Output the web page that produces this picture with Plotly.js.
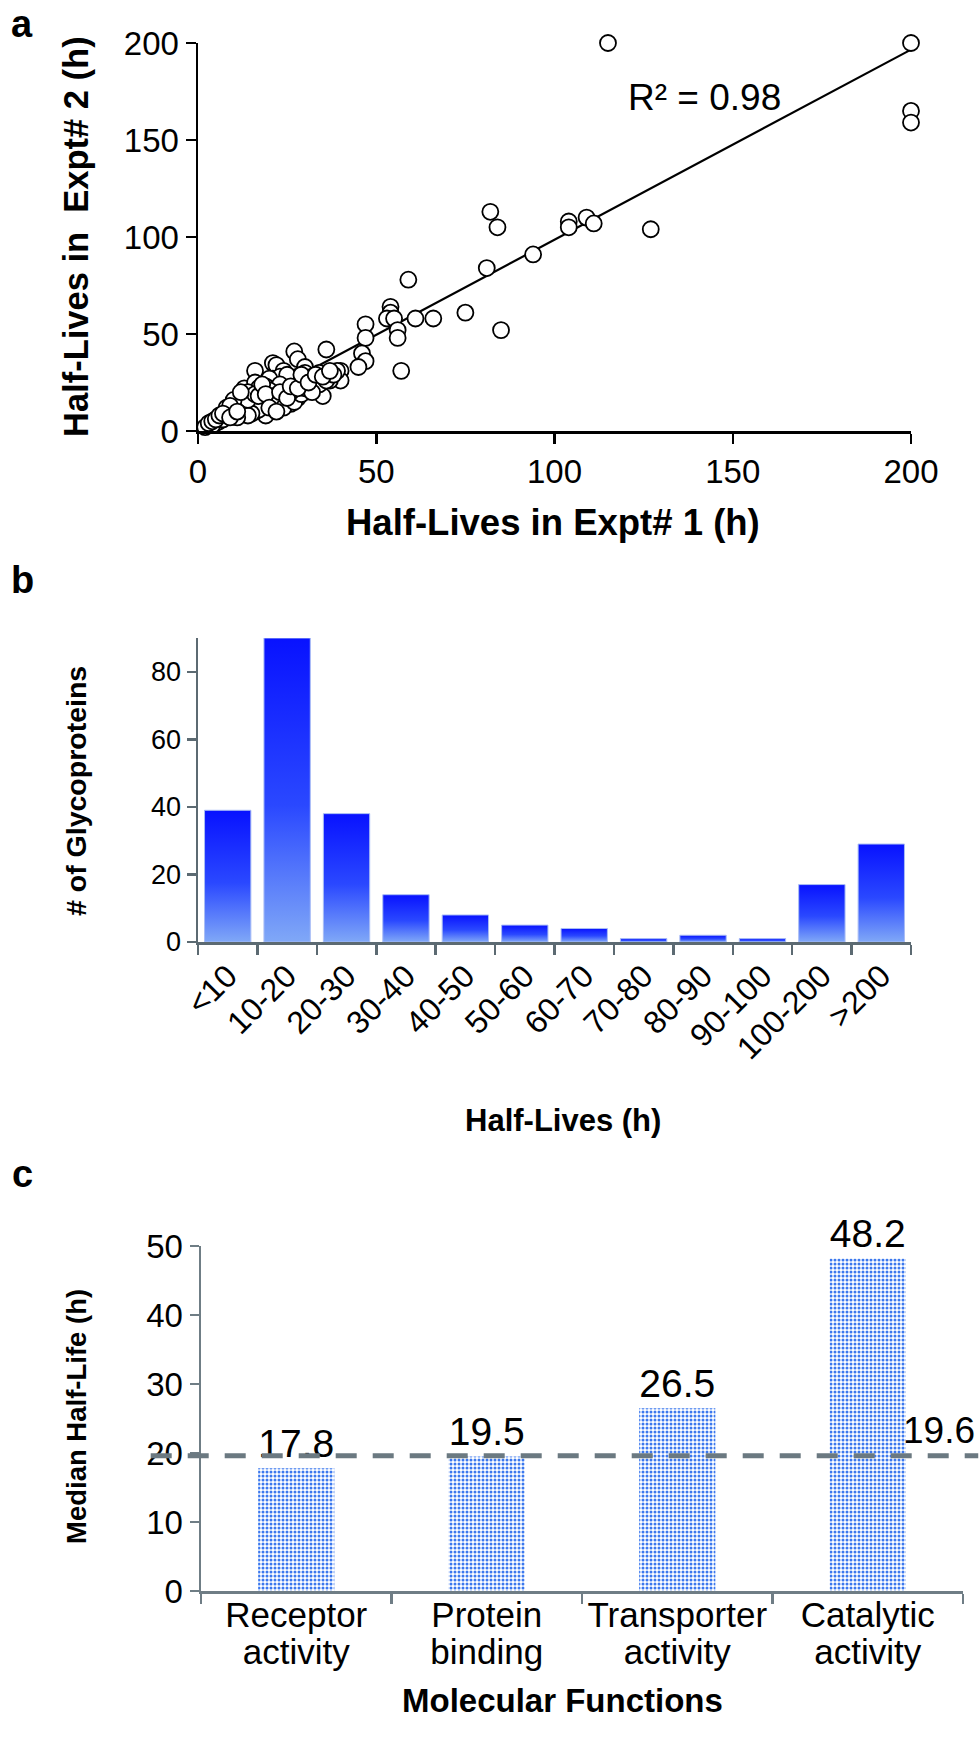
<!DOCTYPE html>
<html>
<head>
<meta charset="utf-8">
<script src="https://cdn.plot.ly/plotly-3.0.1.min.js"></script>
<style>
  html, body { margin: 0; padding: 0; background: #ffffff; }
  #chart { width: 980px; height: 1742px; }
</style>
</head>
<body>
<div id="chart"></div>
<script>
// ---------- Panel a: half-lives in two experiments ----------
const expt1 = [200,200,200,115,82,84,127,104,104,109,111,94,81,59,85,75,66,61,54,54,53,55,56,56,57,47,47,46,47,45,40,40,37,36,27,28,21,22,16,24,30,34,39,37,35,31,27,28,24,19,26,16,22,10,8,7,5,3,2,4,6,13,12,21,23,16,20,17,14,15,18,19,22,25,26,28,29,30,31,32,33,34,36,38,25,23,20,21,18,17,19,20,23,24,27,29,30,32,26,14,13,12,11,10,9,8,9,11,12,13,15,16,17,15,14,6,5,4,7,8,10,11,12,13,14,16,17,18,19,20,22,23,25,26,28,29,31,33,35,37,10,9,12,3,4,5,6,7,9,11];
const expt2 = [200,165,159,200,113,105,104,108,105,110,107,91,84,78,52,61,58,58,64,61,58,58,52,48,31,55,48,40,36,33,31,26,30,42,41,37,35,34,31,31,33,30,31,26,18,21,24,17,19,8,14,15,14,15,12,8,6,3,2,4,7,22,19,27,28,25,27,22,20,17,20,23,22,22,26,28,25,30,27,28,26,24,26,29,29,24,21,18,17,14,13,16,16,12,15,19,22,20,20,12,11,13,10,9,10,7,8,12,9,14,12,10,11,9,8,5,4,3,6,9,11,7,15,17,16,19,18,24,19,12,10,20,17,23,22,29,25,29,28,31,16,13,20,4,5,6,8,9,7,10];
const fitSlope = 0.98;
const fitIntercept = 0.6;
const fitXRange = [1, 200];
const rSquaredLabel = 'R² = 0.98';

// ---------- Panel b: distribution of half-lives ----------
const binLabels = ['<10','10-20','20-30','30-40','40-50','50-60','60-70','70-80','80-90','90-100','100-200','>200'];
const binCounts = [39, 90, 38, 14, 8, 5, 4, 1, 2, 1, 17, 29];

// ---------- Panel c: median half-life per molecular function ----------
const functionLabels = ['Receptor<br>activity','Protein<br>binding','Transporter<br>activity','Catalytic<br>activity'];
const medianHalfLife = [17.8, 19.5, 26.5, 48.2];
const overallMedian = 19.6;

const FONT = 'Liberation Sans, Arial, sans-serif';
const fitY = fitXRange.map(x => fitSlope * x + fitIntercept);
const functionTickText = functionLabels.map(l => l.split('<br>').map(s => '<span style="font-size:35px">' + s + '</span>').join('<br>'));

const data = [
  {
    type: 'scatter', mode: 'lines', x: fitXRange, y: fitY,
    xaxis: 'x', yaxis: 'y', line: {color: '#000000', width: 2.2}, hoverinfo: 'skip', showlegend: false, cliponaxis: false
  },
  {
    type: 'scatter', mode: 'markers', x: expt1, y: expt2,
    xaxis: 'x', yaxis: 'y', cliponaxis: false, showlegend: false,
    marker: {symbol: 'circle', size: 16, color: '#ffffff', line: {color: '#000000', width: 1.8}}
  },
  {
    type: 'bar', x: binLabels, y: binCounts, xaxis: 'x2', yaxis: 'y2', showlegend: false,
    marker: {color: '#2a46ff', line: {color: '#a9bdf5', width: 1}}
  },
  {
    type: 'bar', x: functionLabels, y: medianHalfLife, xaxis: 'x3', yaxis: 'y3', showlegend: false,
    width: 0.4, cliponaxis: false,
    marker: {color: '#3f7df0', line: {width: 0},
      pattern: {shape: '.', size: 4, solidity: 0.45, fgcolor: '#3b78ee', bgcolor: '#ffffff'}},
    text: medianHalfLife.map(v => v.toFixed(1)), textposition: 'outside',
    textfont: {family: FONT, size: 39, color: '#000000'}
  }
];

const H = 1742, W = 980;
const py = px => 1 - px / H;
const pxX = px => px / W;

const axisA = {
  showgrid: false, zeroline: false, showline: true, linecolor: '#000000', linewidth: 2.5,
  ticks: 'outside', ticklen: 10, tickwidth: 2.5, tickcolor: '#000000',
  tickfont: {family: FONT, size: 33, color: '#000000'}
};

function label(text, x, y, size, extra) {
  return Object.assign({text: text, xref: 'paper', yref: 'paper', x: pxX(x), y: py(y),
    xanchor: 'center', yanchor: 'middle', showarrow: false, font: {family: FONT, size: size, color: '#000000'}}, extra || {});
}

const layout = {
  width: W, height: H, margin: {l: 0, r: 0, t: 0, b: 0},
  paper_bgcolor: '#ffffff', plot_bgcolor: 'rgba(0,0,0,0)', showlegend: false,
  font: {family: FONT, color: '#000000'},
  xaxis: Object.assign({}, axisA, {domain: [pxX(198), pxX(911)], range: [0, 200], tickvals: [0,50,100,150,200], anchor: 'y'}),
  yaxis: Object.assign({}, axisA, {domain: [py(431), py(43)], range: [0, 200], tickvals: [0,50,100,150,200], anchor: 'x'}),
  xaxis2: {
    domain: [pxX(198), pxX(911)], anchor: 'y2', type: 'category',
    showgrid: false, zeroline: false, showline: true, linecolor: '#5c6a72', linewidth: 2.5,
    ticks: 'outside', tickson: 'boundaries', ticklen: 10, tickwidth: 2.5, tickcolor: '#5c6a72',
    tickangle: -45, tickfont: {family: FONT, size: 32, color: '#000000'}
  },
  yaxis2: {
    domain: [py(942), py(638)], anchor: 'x2', range: [0, 90], tickvals: [0,20,40,60,80],
    showgrid: false, zeroline: false, showline: true, linecolor: '#5c6a72', linewidth: 2.5,
    ticks: 'outside', ticklen: 9, tickwidth: 2.5, tickcolor: '#5c6a72',
    tickfont: {family: FONT, size: 27, color: '#000000'}
  },
  bargap: 0.22,
  xaxis3: {
    domain: [pxX(201), pxX(963)], anchor: 'y3', type: 'category',
    showgrid: false, zeroline: false, showline: true, linecolor: '#6f7d85', linewidth: 2.5,
    ticks: 'outside', tickson: 'boundaries', ticklen: 10, tickwidth: 2.5, tickcolor: '#6f7d85',
    tickmode: 'array', tickvals: functionLabels, ticktext: functionTickText,
    tickfont: {family: FONT, size: 28, color: '#000000'}
  },
  yaxis3: {
    domain: [py(1591), py(1246)], anchor: 'x3', range: [0, 50], tickvals: [0,10,20,30,40,50],
    showgrid: false, zeroline: false, showline: true, linecolor: '#6f7d85', linewidth: 2.5,
    ticks: 'outside', ticklen: 9, tickwidth: 2.5, tickcolor: '#6f7d85',
    tickfont: {family: FONT, size: 33, color: '#000000'}
  },
  shapes: [
    {type: 'line', layer: 'above', xref: 'x3 domain', yref: 'y3', x0: -0.066, x1: 1.02, y0: overallMedian, y1: overallMedian,
     line: {color: '#6b7981', width: 5, dash: '21px,16px'}}
  ],
  annotations: [
    label('<b>a</b>', 22, 24, 38),
    label('<b>b</b>', 22, 580, 38),
    label('<b>c</b>', 22, 1174, 38),
    {text: rSquaredLabel, xref: 'x', yref: 'y', x: 142, y: 172, xanchor: 'center', yanchor: 'middle', showarrow: false, font: {family: FONT, size: 37}},
    label('<b>Half-Lives in Expt# 1 (h)</b>', 553, 522, 36.5),
    label('<b>Half-Lives in  Expt# 2 (h)</b>', 76, 237, 34.5, {textangle: -90}),
    label('<b># of Glycoproteins</b>', 76, 791, 28.5, {textangle: -90}),
    label('<b>Half-Lives (h)</b>', 563, 1120, 31),
    label('<b>Median Half-Life (h)</b>', 76, 1417, 27.5, {textangle: -90}),
    label('<b>Molecular Functions</b>', 562, 1700, 33),
    {text: overallMedian.toFixed(1), xref: 'paper', yref: 'y3', x: pxX(939), y: overallMedian, xanchor: 'center', yanchor: 'bottom', yshift: 3, showarrow: false, font: {family: FONT, size: 37}}
  ]
};

Plotly.newPlot('chart', data, layout, {staticPlot: true, displayModeBar: false}).then(gd => {
  try {
    const ns = 'http://www.w3.org/2000/svg';
    const svg = gd.querySelector('svg.main-svg');
    let defs = svg.querySelector('defs');
    if (!defs) { defs = document.createElementNS(ns, 'defs'); svg.insertBefore(defs, svg.firstChild); }
    const grad = document.createElementNS(ns, 'linearGradient');
    grad.setAttribute('id', 'histGrad');
    grad.setAttribute('x1', '0'); grad.setAttribute('y1', '0');
    grad.setAttribute('x2', '0'); grad.setAttribute('y2', '1');
    [['0', '#0812ff'], ['0.55', '#2a48ff'], ['1', '#80a8f7']].forEach(([o, c]) => {
      const s = document.createElementNS(ns, 'stop');
      s.setAttribute('offset', o); s.setAttribute('stop-color', c);
      grad.appendChild(s);
    });
    defs.appendChild(grad);
    gd.querySelectorAll('g.x2y2 .barlayer path').forEach(p => { p.style.fill = 'url(#histGrad)'; });
  } catch (e) { /* keep solid fill */ }
});
</script>
</body>
</html>
